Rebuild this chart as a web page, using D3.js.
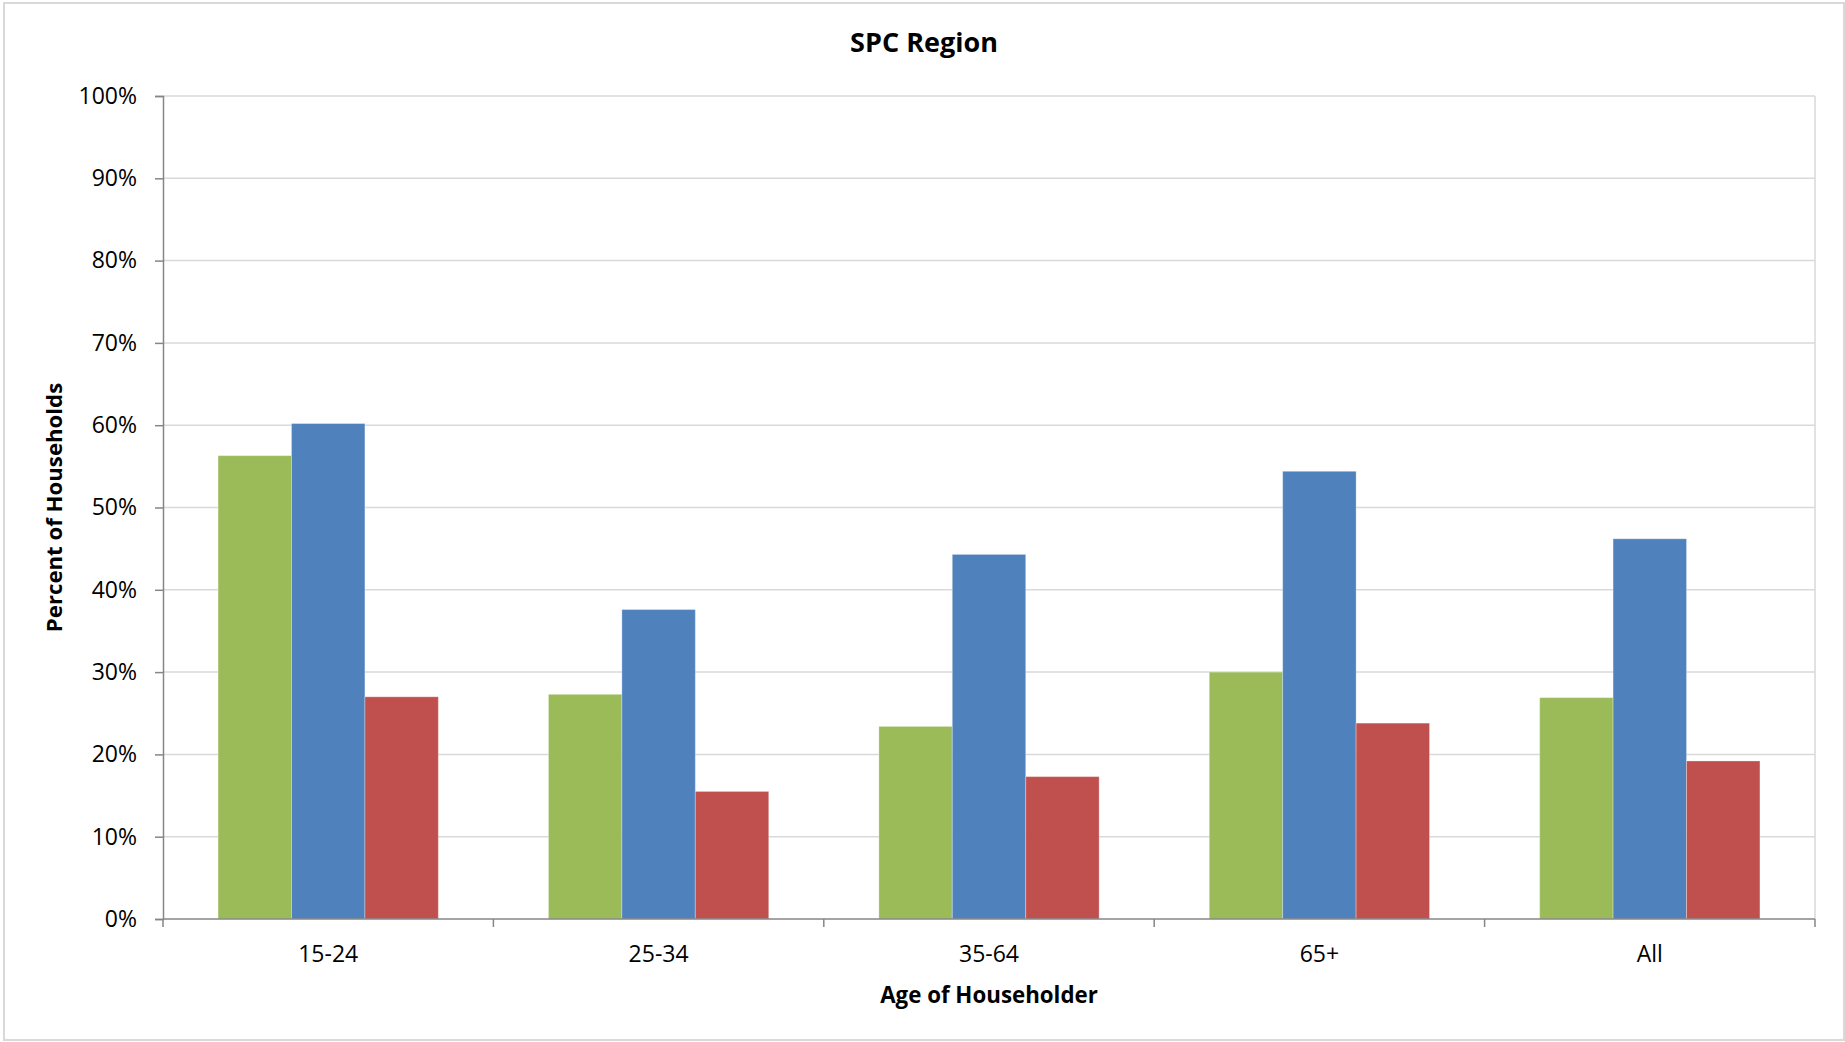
<!DOCTYPE html>
<html>
<head>
<meta charset="utf-8">
<script src="https://cdn.jsdelivr.net/npm/d3@7"></script>
<style>
  html, body { margin: 0; padding: 0; background: #fff; }
  svg { display: block; }
  text { font-family: "Open Sans", "Noto Sans", sans-serif; fill: #000; }
</style>
</head>
<body>
<svg id="chart" width="1845" height="1042"></svg>
<script>
const categories = ["15-24", "25-34", "35-64", "65+", "All"];
const seriesNames = ["Series 1", "Series 2", "Series 3"];
const seriesColors = ["#9BBB59", "#4F81BD", "#C0504D"];
const series1 = [56.3, 27.3, 23.4, 30.0, 26.9];
const series2 = [60.2, 37.6, 44.3, 54.4, 46.2];
const series3 = [27.0, 15.5, 17.3, 23.8, 19.2];
const yTicks = [0, 10, 20, 30, 40, 50, 60, 70, 80, 90, 100];
const titleText = "SPC Region";
const xTitle = "Age of Householder";
const yTitle = "Percent of Households";

const seriesValues = [series1, series2, series3];

const svg = d3.select("#chart");
const plot = { left: 163, right: 1815, top: 96, bottom: 919 };

// outer border
svg.append("rect")
  .attr("x", 4).attr("y", 3).attr("width", 1840).attr("height", 1037)
  .attr("fill", "#fff").attr("stroke", "#d9d9d9").attr("stroke-width", 2);

const y = d3.scaleLinear().domain([0, 100]).range([plot.bottom, plot.top]);
const x0 = d3.scaleBand().domain(categories)
  .range([plot.left, plot.right])
  .paddingInner(1 / 3).paddingOuter(1 / 6);
const x1 = d3.scaleBand().domain(seriesNames).range([0, x0.bandwidth()]);

// gridlines
svg.append("g")
  .selectAll("line").data(yTicks.filter(d => d > 0)).join("line")
  .attr("x1", plot.left).attr("x2", plot.right)
  .attr("y1", d => y(d)).attr("y2", d => y(d))
  .attr("stroke", "#d9d9d9").attr("stroke-width", 1.5);

// plot area right border
svg.append("line")
  .attr("x1", plot.right).attr("x2", plot.right)
  .attr("y1", plot.top).attr("y2", plot.bottom)
  .attr("stroke", "#d9d9d9").attr("stroke-width", 1.5);

// bars
const rows = categories.map((c, i) => ({ cat: c, vals: seriesNames.map((s, j) => ({ s, j, v: seriesValues[j][i] })) }));
svg.append("g")
  .selectAll("g").data(rows).join("g")
  .attr("transform", d => `translate(${x0(d.cat)},0)`)
  .selectAll("rect").data(d => d.vals).join("rect")
  .attr("x", d => x1(d.s))
  .attr("width", x1.bandwidth())
  .attr("y", d => y(d.v))
  .attr("height", d => y(0) - y(d.v))
  .attr("fill", d => seriesColors[d.j])
  .attr("stroke", "rgba(255,255,255,0.3)")
  .attr("stroke-width", 1);

// Y axis
const yAxis = d3.axisLeft(y).tickValues(yTicks).tickFormat(d => d + "%")
  .tickSize(8).tickPadding(18);
const gy = svg.append("g").attr("transform", `translate(${plot.left},0)`).call(yAxis);
gy.select(".domain").attr("stroke", "#868686").attr("stroke-width", 1.5);
gy.selectAll(".tick line").attr("stroke", "#868686").attr("stroke-width", 1.5);
gy.selectAll(".tick text")
  .style("font-family", "'Open Sans', sans-serif")
  .style("font-size", "23px").attr("fill", "#000");

// X axis
const step = x0.step();
const boundaries = categories.map(c => x0(c) - step * x0.paddingInner() / 2)
  .concat([x0(categories[categories.length - 1]) + x0.bandwidth() + step * x0.paddingInner() / 2]);
const gx = svg.append("g");
gx.append("line")
  .attr("x1", plot.left).attr("x2", plot.right)
  .attr("y1", plot.bottom).attr("y2", plot.bottom)
  .attr("stroke", "#868686").attr("stroke-width", 1.5);
gx.selectAll("line.tk").data(boundaries).join("line").attr("class", "tk")
  .attr("x1", d => d).attr("x2", d => d)
  .attr("y1", plot.bottom).attr("y2", plot.bottom + 8)
  .attr("stroke", "#868686").attr("stroke-width", 1.5);
gx.selectAll("text").data(categories).join("text")
  .attr("x", d => x0(d) + x0.bandwidth() / 2)
  .attr("y", 962)
  .attr("text-anchor", "middle")
  .style("font-size", "23px")
  .text(d => d);

// titles
svg.append("text")
  .attr("x", 924).attr("y", 52)
  .attr("text-anchor", "middle")
  .style("font-size", "27px").style("font-weight", "bold")
  .text(titleText);

svg.append("text")
  .attr("x", (plot.left + plot.right) / 2).attr("y", 1003)
  .attr("text-anchor", "middle")
  .style("font-size", "22.3px").style("font-weight", "bold")
  .text(xTitle);

svg.append("text")
  .attr("transform", `translate(62,${(plot.top + plot.bottom) / 2}) rotate(-90)`)
  .attr("text-anchor", "middle")
  .style("font-size", "22.2px").style("font-weight", "bold")
  .text(yTitle);
</script>
</body>
</html>
